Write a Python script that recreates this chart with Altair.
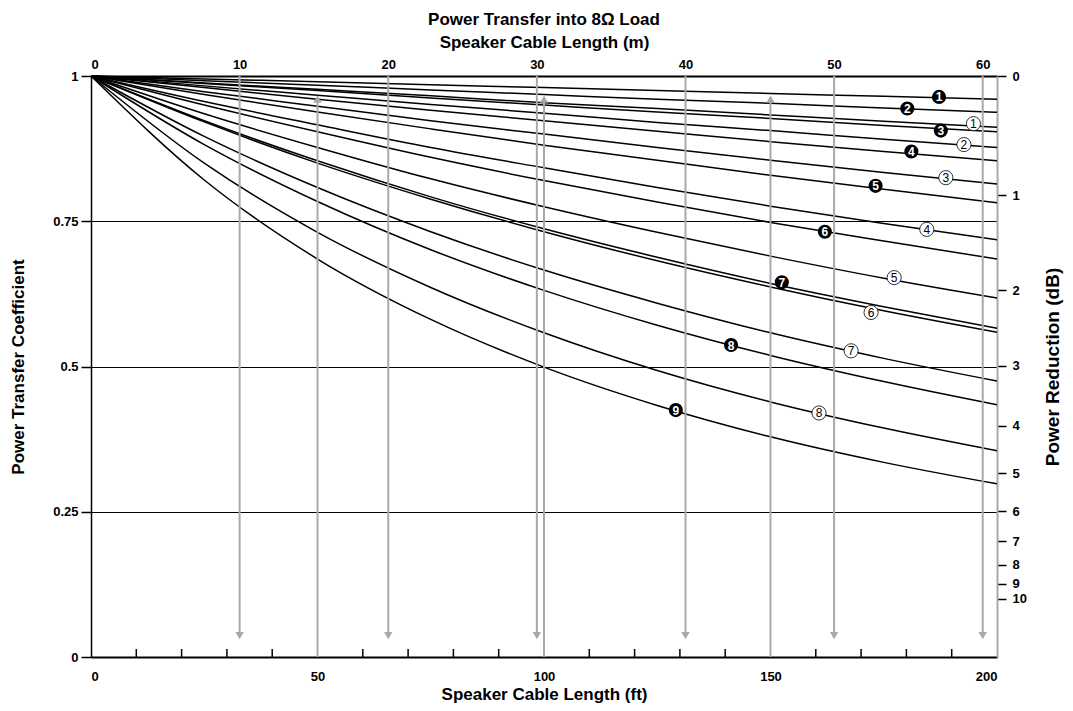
import altair as alt
import pandas as pd

# ---------------- data ----------------
FT = [0, 25, 50, 75, 100, 125, 150, 175, 200]

CURVES = [
    [1, 0.995, 0.990, 0.985, 0.980, 0.975, 0.970, 0.965, 0.960],
    [1, 0.992, 0.984, 0.976, 0.968, 0.960, 0.953, 0.945, 0.9375],
    [1, 0.988, 0.977, 0.966, 0.954, 0.944, 0.933, 0.922, 0.912],
    [1, 0.987, 0.975, 0.962, 0.950, 0.938, 0.927, 0.915, 0.904],
    [1, 0.983, 0.967, 0.951, 0.936, 0.920, 0.906, 0.891, 0.877],
    [1, 0.980, 0.960, 0.941, 0.923, 0.905, 0.887, 0.870, 0.854],
    [1, 0.973, 0.948, 0.923, 0.900, 0.877, 0.855, 0.834, 0.814],
    [1, 0.968, 0.938, 0.909, 0.881, 0.855, 0.829, 0.805, 0.782],
    [1, 0.956, 0.916, 0.877, 0.842, 0.808, 0.776, 0.746, 0.718],
    [1, 0.950, 0.904, 0.860, 0.820, 0.783, 0.748, 0.716, 0.685],
    [1, 0.935, 0.877, 0.823, 0.775, 0.731, 0.690, 0.652, 0.618],
    [1, 0.923, 0.854, 0.792, 0.737, 0.688, 0.643, 0.603, 0.566],
    [1, 0.921, 0.850, 0.788, 0.732, 0.682, 0.637, 0.596, 0.559],
    [1, 0.896, 0.808, 0.732, 0.666, 0.609, 0.558, 0.514, 0.475],
    [1, 0.882, 0.784, 0.701, 0.631, 0.571, 0.519, 0.474, 0.434],
    [1, 0.850, 0.731, 0.636, 0.558, 0.493, 0.439, 0.394, 0.355],
    [1, 0.821, 0.685, 0.581, 0.499, 0.433, 0.379, 0.335, 0.298],
]

BLACK_LABELS = ["1", "2", "3", "4", "5", "6", "7", "8", "9"]
BLACK_X = [187.2, 180.2, 187.6, 181.1, 173.2, 162.0, 152.5, 141.3, 129.1]
BLACK_Y = [0.964, 0.944, 0.906, 0.870, 0.811, 0.732, 0.645, 0.537, 0.425]

WHITE_LABELS = ["1", "2", "3", "4", "5", "6", "7", "8"]
WHITE_X = [194.8, 192.7, 188.7, 184.5, 177.3, 172.2, 167.8, 160.7]
WHITE_Y = [0.918, 0.882, 0.825, 0.736, 0.653, 0.593, 0.527, 0.420]

FT_PER_M = 3.2808
M_TICKS = [0, 10, 20, 30, 40, 50, 60]
ARROW_DOWN_M = [10, 20, 30, 40, 50, 60]
ARROW_UP_FT = [50, 100, 150]
ARROW_DOWN_END = 0.037
ARROW_UP_END = 0.96
DB_TICKS = [0, 1, 2, 3, 4, 5, 6, 7, 8, 9, 10]
X_LABELS = [0, 50, 100, 150, 200]
FT_MINOR = [10, 20, 30, 40, 60, 70, 80, 90, 110, 120, 130, 140, 160, 170, 180, 190]
Y_TICKS = [0, 0.25, 0.5, 0.75, 1]

# ---------------- styling ----------------
W, H = 906, 581
FONT = "Liberation Sans"
GRAY = "#a9a9a9"

rows = []
for i, vals in enumerate(CURVES):
    for x, y in zip(FT, vals):
        rows.append({"curve": i, "ft": x, "p": y})
curves_df = pd.DataFrame(rows)

down_df = pd.DataFrame({
    "ft": [m * FT_PER_M for m in ARROW_DOWN_M],
    "y1": [1.0] * len(ARROW_DOWN_M),
    "y2": [ARROW_DOWN_END] * len(ARROW_DOWN_M),
})
up_df = pd.DataFrame({
    "ft": ARROW_UP_FT,
    "y1": [0.0] * len(ARROW_UP_FT),
    "y2": [ARROW_UP_END] * len(ARROW_UP_FT),
})
black_df = pd.DataFrame({"ft": BLACK_X, "p": BLACK_Y, "lab": BLACK_LABELS})
white_df = pd.DataFrame({"ft": WHITE_X, "p": WHITE_Y, "lab": WHITE_LABELS})
minor_df = pd.DataFrame({"ft": FT_MINOR})

xs = alt.Scale(domain=[0, 200], nice=False, zero=False)
ys = alt.Scale(domain=[0, 1], nice=False)

m_positions = [m * FT_PER_M for m in M_TICKS]
db_positions = [10 ** (-d / 10) for d in DB_TICKS]

# arrows (also carry the top metre axis and the right dB axis)
down_rules = alt.Chart(down_df).mark_rule(color=GRAY, strokeWidth=2).encode(
    x=alt.X("ft:Q", scale=xs, axis=alt.Axis(
        orient="top", values=m_positions, ticks=False,
        labelExpr="'' + round(datum.value / 3.2808)",
        labelPadding=5, labelFontSize=13,
        title="Speaker Cable Length (m)", titleFontSize=17, titlePadding=7,
        domainColor="black", domainWidth=2, grid=False)),
    y=alt.Y("y1:Q", scale=ys, axis=alt.Axis(
        orient="right", values=db_positions,
        labelExpr="'' + round(-10 * log(datum.value) / LN10)",
        tickSize=9, tickColor="black", tickWidth=1.5,
        domainColor=GRAY, domainWidth=2, labelPadding=6, labelFontSize=13,
        title="Power Reduction (dB)", titleFontSize=19, titleAngle=270,
        titlePadding=36, grid=False)),
    y2="y2:Q",
)
down_heads = alt.Chart(down_df).mark_point(
    shape="triangle-down", filled=True, color=GRAY, size=70, opacity=1
).encode(
    x=alt.X("ft:Q", scale=xs, axis=None),
    y=alt.Y("y2:Q", scale=ys, axis=None),
)
up_rules = alt.Chart(up_df).mark_rule(color=GRAY, strokeWidth=2).encode(
    x=alt.X("ft:Q", scale=xs, axis=None),
    y=alt.Y("y1:Q", scale=ys, axis=None),
    y2="y2:Q",
)
up_heads = alt.Chart(up_df).mark_point(
    shape="triangle-up", filled=True, color=GRAY, size=70, opacity=1
).encode(
    x=alt.X("ft:Q", scale=xs, axis=None),
    y=alt.Y("y2:Q", scale=ys, axis=None),
)

lines = alt.Chart(curves_df).mark_line(
    color="black", strokeWidth=1.5, interpolate="monotone"
).encode(
    x=alt.X("ft:Q", scale=xs, axis=alt.Axis(
        orient="bottom", values=X_LABELS, ticks=False, labelPadding=13,
        labelFontSize=13, title="Speaker Cable Length (ft)", titleFontSize=17,
        titlePadding=3, domainColor="black", domainWidth=2, grid=False)),
    y=alt.Y("p:Q", scale=ys, axis=alt.Axis(
        orient="left", values=Y_TICKS, labelExpr="'' + datum.value",
        tickSize=10, tickColor="black", tickWidth=1.5, labelPadding=3,
        labelFontSize=13, grid=True, gridColor="black", gridWidth=1,
        gridOpacity=1, domainColor="black", domainWidth=1.5,
        title="Power Transfer Coefficient", titleFontSize=17, titlePadding=25)),
    detail="curve:N",
)

minor_ticks = alt.Chart(minor_df).mark_rule(color="black", strokeWidth=1.5).encode(
    x=alt.X("ft:Q", scale=xs, axis=None),
    y=alt.value(H),
    y2=alt.value(H - 8),
)

black_pts = alt.Chart(black_df).mark_point(
    shape="circle", filled=True, color="black", size=200, opacity=1
).encode(
    x=alt.X("ft:Q", scale=xs, axis=None),
    y=alt.Y("p:Q", scale=ys, axis=None),
)
black_txt = alt.Chart(black_df).mark_text(
    color="white", font=FONT, fontWeight="bold", fontSize=12,
    align="center", baseline="middle", dy=0.5
).encode(
    x=alt.X("ft:Q", scale=xs, axis=None),
    y=alt.Y("p:Q", scale=ys, axis=None),
    text="lab:N",
)
white_pts = alt.Chart(white_df).mark_point(
    shape="circle", filled=True, fill="white", stroke="black",
    strokeWidth=0.8, size=200, opacity=1
).encode(
    x=alt.X("ft:Q", scale=xs, axis=None),
    y=alt.Y("p:Q", scale=ys, axis=None),
)
white_txt = alt.Chart(white_df).mark_text(
    color="black", font=FONT, fontSize=12,
    align="center", baseline="middle", dy=0.5
).encode(
    x=alt.X("ft:Q", scale=xs, axis=None),
    y=alt.Y("p:Q", scale=ys, axis=None),
    text="lab:N",
)

chart = alt.layer(
    lines, down_rules, down_heads, up_rules, up_heads, minor_ticks,
    black_pts, black_txt, white_pts, white_txt,
).resolve_axis(
    x="independent", y="independent"
).properties(
    width=W, height=H,
    title=alt.TitleParams("Power Transfer into 8Ω Load", anchor="middle",
                          fontSize=17, offset=4),
    autosize=alt.AutoSizeParams(type="none"),
    padding={"left": 83, "top": 68, "right": 68, "bottom": 46},
).configure_view(stroke=None).configure_axis(
    labelFont=FONT, titleFont=FONT, labelFontWeight="bold",
    titleFontWeight="bold", labelColor="black", titleColor="black",
).configure_title(font=FONT, fontWeight="bold", color="black")

chart.save("out.html", embed_options={"renderer": "svg", "actions": False})
